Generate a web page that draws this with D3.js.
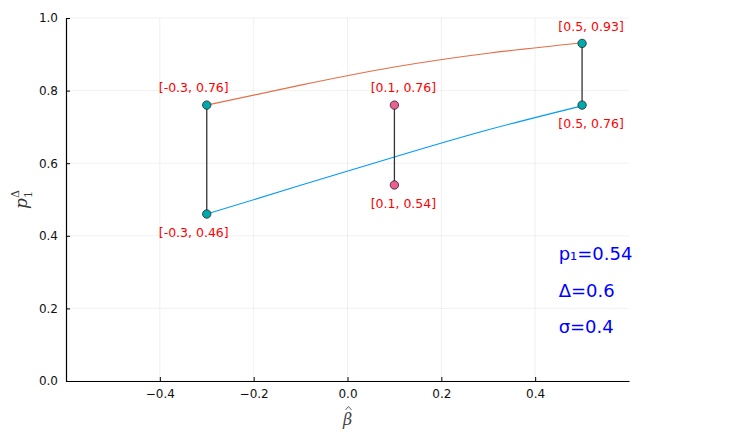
<!DOCTYPE html>
<html><head><meta charset="utf-8">
<script src="https://cdn.jsdelivr.net/npm/d3@7"></script>
<style>body{margin:0;background:#fff;} svg{display:block;font-family:"DejaVu Sans",sans-serif;}</style>
</head><body>
<svg id="c" width="742" height="437"></svg>
<script>
// data
const betaGrid = [-0.3, -0.1, 0.1, 0.3, 0.5];
const upperCurve = [0.76, 0.815, 0.865, 0.903, 0.932];
const lowerCurve = [0.46, 0.539, 0.617, 0.692, 0.758];
const segX = [-0.3, 0.1, 0.5];
const segLow = [0.46, 0.54, 0.76];
const segHigh = [0.76, 0.76, 0.93];
const segKind = ["teal", "pink", "teal"];
const lowLabels = ["[-0.3, 0.46]", "[0.1, 0.54]", "[0.5, 0.76]"];
const highLabels = ["[-0.3, 0.76]", "[0.1, 0.76]", "[0.5, 0.93]"];
const xTicks = [-0.4, -0.2, 0.0, 0.2, 0.4];
const yTicks = [0.0, 0.2, 0.4, 0.6, 0.8, 1.0];
const infoLines = ["p\u2081=0.54", "\u0394=0.6", "\u03c3=0.4"];
const infoY = [0.35, 0.25, 0.15];
const infoX = 0.45;

const svg = d3.select("#c");
const m = {l: 66, r: 113, t: 18, b: 56};
const W = 742, H = 437;
const x = d3.scaleLinear().domain([-0.6, 0.6]).range([m.l, W - m.r]);
const y = d3.scaleLinear().domain([0, 1]).range([H - m.b, m.t]);
const fmt = d => d3.format(".1f")(d).replace("-", "\u2212");

// grid
svg.append("g").selectAll("line").data(xTicks).join("line")
  .attr("x1", d => x(d)).attr("x2", d => x(d)).attr("y1", y(0)).attr("y2", y(1))
  .attr("stroke", "#000").attr("stroke-opacity", 0.1).attr("stroke-width", 0.6);
svg.append("g").selectAll("line").data(yTicks).join("line")
  .attr("x1", x(-0.6)).attr("x2", x(0.6)).attr("y1", d => y(d)).attr("y2", d => y(d))
  .attr("stroke", "#000").attr("stroke-opacity", 0.1).attr("stroke-width", 0.6);

// axes
const xa = svg.append("g").attr("transform", `translate(0,${y(0)})`)
  .call(d3.axisBottom(x).tickValues(xTicks).tickFormat(fmt).tickSizeInner(-4).tickSizeOuter(0).tickPadding(8));
const ya = svg.append("g").attr("transform", `translate(${x(-0.6)},0)`)
  .call(d3.axisLeft(y).tickValues(yTicks).tickFormat(d3.format(".1f")).tickSizeInner(-4).tickSizeOuter(0).tickPadding(8));
[xa, ya].forEach(a => {
  a.select(".domain").attr("stroke", "#000").attr("stroke-width", 1.2);
  a.selectAll(".tick line").attr("stroke", "#000");
  a.selectAll("text").attr("font-size", 12).attr("fill", "#111").attr("font-family", "DejaVu Sans");
});

// curves
const line = d3.line().x((d, i) => x(betaGrid[i])).y(d => y(d)).curve(d3.curveNatural);
svg.append("path").attr("d", line(upperCurve)).attr("fill", "none").attr("stroke", "#E36F47").attr("stroke-width", 1.1);
svg.append("path").attr("d", line(lowerCurve)).attr("fill", "none").attr("stroke", "#009AFA").attr("stroke-width", 1.1);

// vertical segments
const colors = {teal: "#00A9AD", pink: "#ED5E93"};
svg.append("g").selectAll("line").data(segX).join("line")
  .attr("x1", d => x(d)).attr("x2", d => x(d))
  .attr("y1", (d, i) => y(segLow[i])).attr("y2", (d, i) => y(segHigh[i]))
  .attr("stroke", "#333").attr("stroke-width", 1.3);
const pts = [];
segX.forEach((d, i) => { pts.push({x: d, y: segLow[i], k: segKind[i]}); pts.push({x: d, y: segHigh[i], k: segKind[i]}); });
svg.append("g").selectAll("circle").data(pts).join("circle")
  .attr("cx", d => x(d.x)).attr("cy", d => y(d.y)).attr("r", 4.2)
  .attr("fill", d => colors[d.k]).attr("stroke", "#222").attr("stroke-width", 0.8);

// labels
const dxs = [-13, 9, 9];
svg.append("g").selectAll("text").data(segX).join("text")
  .attr("x", (d, i) => x(d) + dxs[i]).attr("y", (d, i) => y(segHigh[i]) - 17)
  .attr("dy", "0.35em").attr("text-anchor", "middle").attr("font-size", 12.5).attr("fill", "#ff0000")
  .text((d, i) => highLabels[i]);
svg.append("g").selectAll("text").data(segX).join("text")
  .attr("x", (d, i) => x(d) + dxs[i]).attr("y", (d, i) => y(segLow[i]) + 19)
  .attr("dy", "0.35em").attr("text-anchor", "middle").attr("font-size", 12.5).attr("fill", "#ff0000")
  .text((d, i) => lowLabels[i]);

// info text
svg.append("g").selectAll("text").data(infoLines).join("text")
  .attr("x", x(infoX)).attr("y", (d, i) => y(infoY[i])).attr("dy", "0.35em")
  .attr("font-size", 18).attr("fill", "#0000ff").text(d => d);

// axis titles
const bx = x(0);
svg.append("text").attr("x", bx).attr("y", 425).attr("text-anchor", "middle")
  .attr("font-family", "DejaVu Serif").attr("font-style", "italic").attr("font-size", 16).attr("fill", "#444")
  .text("\u03b2");
svg.append("path").attr("d", `M${bx - 2},${410} L${bx + 1},${406.5} L${bx + 4},${410}`)
  .attr("fill", "none").attr("stroke", "#555").attr("stroke-width", 0.9);
const yl = svg.append("text").attr("transform", `translate(27,${y(0.5)}) rotate(-90)`)
  .attr("text-anchor", "middle").attr("font-family", "DejaVu Serif").attr("font-style", "italic").attr("font-size", 17).attr("fill", "#333");
yl.append("tspan").text("p");
yl.append("tspan").attr("font-size", 11).attr("font-style", "normal").attr("dy", -8).text("\u0394");
yl.append("tspan").attr("font-size", 11).attr("font-style", "normal").attr("dx", -8).attr("dy", 13).text("1");
</script>
</body></html>
